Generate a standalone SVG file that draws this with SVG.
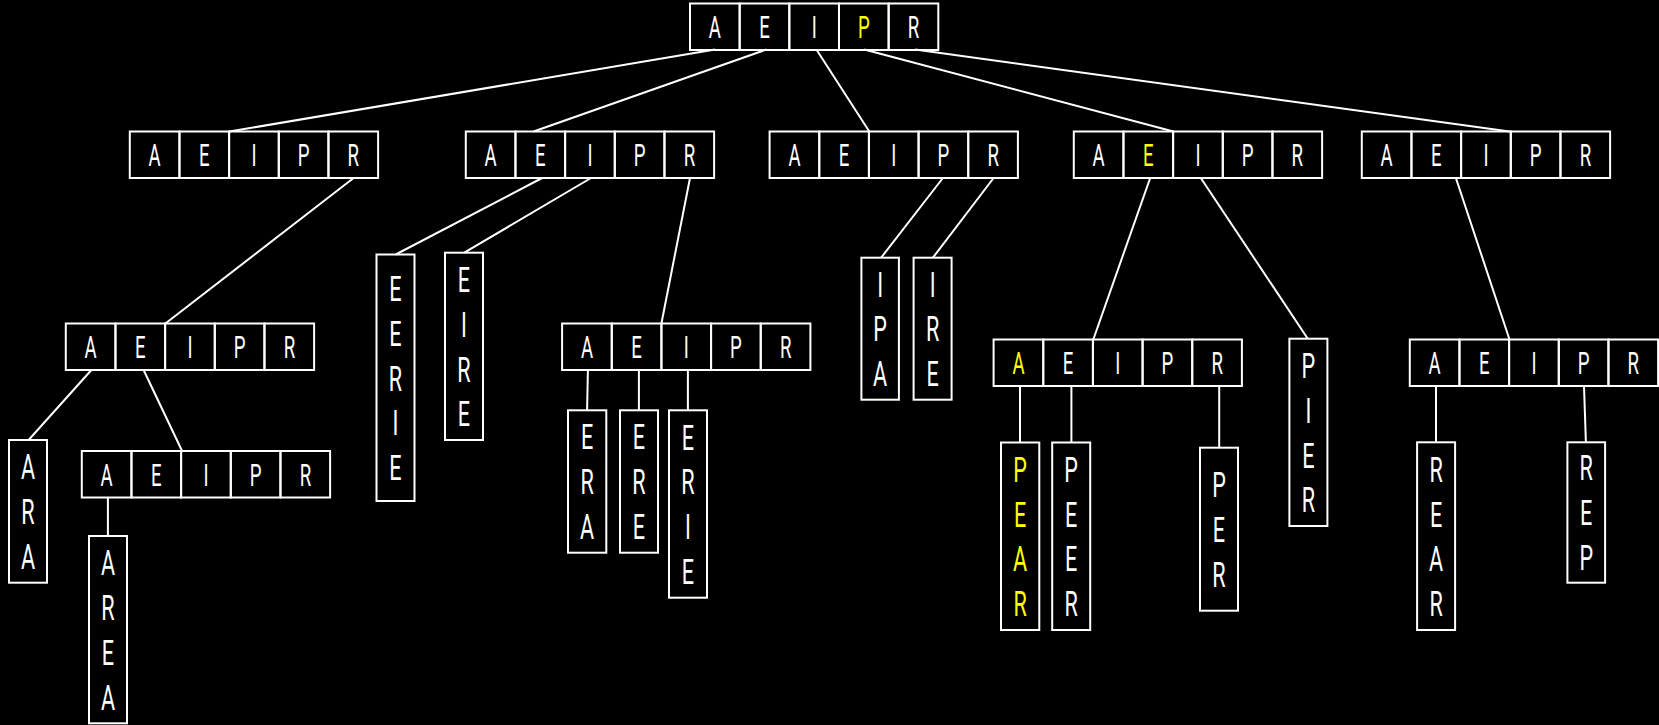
<svg xmlns="http://www.w3.org/2000/svg" width="1659" height="725" viewBox="0 0 1659 725">
<style>
.bg{fill:#000}
.c{fill:none;stroke:#fff;stroke-width:2}
.l{stroke:#fff;stroke-width:2;fill:none}
text{font-family:"Roboto","Liberation Sans",sans-serif;font-weight:400;fill:#fff;text-anchor:middle;transform-box:fill-box;transform-origin:center;transform:scaleX(0.6)}
.h{font-size:31px}
.v{font-size:36px}
.y{fill:#ffff00}
</style>
<rect class="bg" x="0" y="0" width="1659" height="725"/>
<defs>
<g id="cells">
<rect class="c" x="0" y="0" width="49.66" height="46.5"/>
<rect class="c" x="49.66" y="0" width="49.66" height="46.5"/>
<rect class="c" x="99.32" y="0" width="49.66" height="46.5"/>
<rect class="c" x="148.98" y="0" width="49.66" height="46.5"/>
<rect class="c" x="198.64" y="0" width="49.66" height="46.5"/>
</g>
</defs>
<g id="connectors">
<line class="l" x1="715" y1="49.5" x2="229.5" y2="131.5"/>
<line class="l" x1="766.4" y1="49.5" x2="533.6" y2="131.5"/>
<line class="l" x1="816.4" y1="49.5" x2="869.3" y2="131.5"/>
<line class="l" x1="864.3" y1="49.5" x2="1173.4" y2="131.5"/>
<line class="l" x1="915" y1="49.5" x2="1509.5" y2="131.5"/>
<line class="l" x1="353.6" y1="178" x2="165.4" y2="323.5"/>
<line class="l" x1="91.4" y1="370" x2="28.6" y2="440"/>
<line class="l" x1="143.6" y1="370" x2="182.1" y2="451"/>
<line class="l" x1="107.9" y1="497.5" x2="107.9" y2="536"/>
<line class="l" x1="542.1" y1="178" x2="395.7" y2="254.5"/>
<line class="l" x1="591" y1="178" x2="464.3" y2="252.7"/>
<line class="l" x1="690" y1="178" x2="661.4" y2="323.5"/>
<line class="l" x1="587.9" y1="370" x2="587.1" y2="410.3"/>
<line class="l" x1="638.9" y1="370" x2="638.9" y2="410.3"/>
<line class="l" x1="687.9" y1="370" x2="687.9" y2="410.3"/>
<line class="l" x1="942.9" y1="178" x2="881.1" y2="257.7"/>
<line class="l" x1="993.6" y1="178" x2="932.9" y2="257.7"/>
<line class="l" x1="1150.2" y1="178" x2="1093.3" y2="339.5"/>
<line class="l" x1="1200.8" y1="178" x2="1307.8" y2="338.7"/>
<line class="l" x1="1020" y1="386" x2="1020" y2="442.5"/>
<line class="l" x1="1071.4" y1="386" x2="1071.4" y2="442.5"/>
<line class="l" x1="1219.2" y1="386" x2="1219.2" y2="447.7"/>
<line class="l" x1="1455.9" y1="178" x2="1509.5" y2="339.5"/>
<line class="l" x1="1436" y1="386" x2="1436" y2="442.3"/>
<line class="l" x1="1584" y1="386" x2="1585.9" y2="442.3"/>
</g>
<g id="root">
<use href="#cells" x="690" y="3.5"/>
<text class="h" x="714.8" y="38.2">A</text><text class="h" x="764.5" y="38.2">E</text><text class="h" x="814.2" y="38.2">I</text><text class="h y" x="863.8" y="38.2">P</text><text class="h" x="913.5" y="38.2">R</text>
</g>
<g id="n1">
<use href="#cells" x="129.8" y="131.5"/>
<text class="h" x="154.6" y="166.2">A</text><text class="h" x="204.3" y="166.2">E</text><text class="h" x="254" y="166.2">I</text><text class="h" x="303.6" y="166.2">P</text><text class="h" x="353.3" y="166.2">R</text>
</g>
<g id="n2">
<use href="#cells" x="465.8" y="131.5"/>
<text class="h" x="490.6" y="166.2">A</text><text class="h" x="540.3" y="166.2">E</text><text class="h" x="590" y="166.2">I</text><text class="h" x="639.6" y="166.2">P</text><text class="h" x="689.3" y="166.2">R</text>
</g>
<g id="n3">
<use href="#cells" x="769.6" y="131.5"/>
<text class="h" x="794.4" y="166.2">A</text><text class="h" x="844.1" y="166.2">E</text><text class="h" x="893.8" y="166.2">I</text><text class="h" x="943.4" y="166.2">P</text><text class="h" x="993.1" y="166.2">R</text>
</g>
<g id="n4">
<use href="#cells" x="1073.8" y="131.5"/>
<text class="h" x="1098.6" y="166.2">A</text><text class="h y" x="1148.3" y="166.2">E</text><text class="h" x="1198" y="166.2">I</text><text class="h" x="1247.6" y="166.2">P</text><text class="h" x="1297.3" y="166.2">R</text>
</g>
<g id="n5">
<use href="#cells" x="1361.8" y="131.5"/>
<text class="h" x="1386.6" y="166.2">A</text><text class="h" x="1436.3" y="166.2">E</text><text class="h" x="1486" y="166.2">I</text><text class="h" x="1535.6" y="166.2">P</text><text class="h" x="1585.3" y="166.2">R</text>
</g>
<g id="n1a">
<use href="#cells" x="65.8" y="323.5"/>
<text class="h" x="90.6" y="358.2">A</text><text class="h" x="140.3" y="358.2">E</text><text class="h" x="190" y="358.2">I</text><text class="h" x="239.6" y="358.2">P</text><text class="h" x="289.3" y="358.2">R</text>
</g>
<g id="n1b">
<use href="#cells" x="81.8" y="451"/>
<text class="h" x="106.6" y="485.7">A</text><text class="h" x="156.3" y="485.7">E</text><text class="h" x="206" y="485.7">I</text><text class="h" x="255.6" y="485.7">P</text><text class="h" x="305.3" y="485.7">R</text>
</g>
<g id="n2b">
<use href="#cells" x="562.1" y="323.5"/>
<text class="h" x="586.9" y="358.2">A</text><text class="h" x="636.6" y="358.2">E</text><text class="h" x="686.3" y="358.2">I</text><text class="h" x="735.9" y="358.2">P</text><text class="h" x="785.6" y="358.2">R</text>
</g>
<g id="n4a">
<use href="#cells" x="993.6" y="339.5"/>
<text class="h y" x="1018.4" y="374.2">A</text><text class="h" x="1068.1" y="374.2">E</text><text class="h" x="1117.8" y="374.2">I</text><text class="h" x="1167.4" y="374.2">P</text><text class="h" x="1217.1" y="374.2">R</text>
</g>
<g id="n5a">
<use href="#cells" x="1409.8" y="339.5"/>
<text class="h" x="1434.6" y="374.2">A</text><text class="h" x="1484.3" y="374.2">E</text><text class="h" x="1534" y="374.2">I</text><text class="h" x="1583.6" y="374.2">P</text><text class="h" x="1633.3" y="374.2">R</text>
</g>
<g id="w-ara">
<rect class="c" x="9" y="440" width="38" height="142.7"/>
<text class="v" x="28" y="479.4">A</text><text class="v" x="28" y="524.2">R</text><text class="v" x="28" y="569">A</text>
</g>
<g id="w-area">
<rect class="c" x="89" y="536" width="38" height="187.3"/>
<text class="v" x="108" y="575.3">A</text><text class="v" x="108" y="620.1">R</text><text class="v" x="108" y="664.9">E</text><text class="v" x="108" y="709.7">A</text>
</g>
<g id="w-eerie">
<rect class="c" x="376.5" y="254.5" width="38" height="246.5"/>
<text class="v" x="395.5" y="301">E</text><text class="v" x="395.5" y="345.8">E</text><text class="v" x="395.5" y="390.6">R</text><text class="v" x="395.5" y="435.4">I</text><text class="v" x="395.5" y="480.2">E</text>
</g>
<g id="w-eire">
<rect class="c" x="445" y="252.7" width="38" height="187.3"/>
<text class="v" x="464" y="292">E</text><text class="v" x="464" y="336.8">I</text><text class="v" x="464" y="381.6">R</text><text class="v" x="464" y="426.4">E</text>
</g>
<g id="w-era">
<rect class="c" x="568" y="410.3" width="38.3" height="142.4"/>
<text class="v" x="587.15" y="449.5">E</text><text class="v" x="587.15" y="494.3">R</text><text class="v" x="587.15" y="539.1">A</text>
</g>
<g id="w-ere">
<rect class="c" x="620" y="410.3" width="38" height="142.4"/>
<text class="v" x="639" y="449.5">E</text><text class="v" x="639" y="494.3">R</text><text class="v" x="639" y="539.1">E</text>
</g>
<g id="w-erie">
<rect class="c" x="669" y="410.3" width="38" height="187.4"/>
<text class="v" x="688" y="449.6">E</text><text class="v" x="688" y="494.4">R</text><text class="v" x="688" y="539.2">I</text><text class="v" x="688" y="584">E</text>
</g>
<g id="w-ipa">
<rect class="c" x="861.4" y="257.7" width="37.5" height="142"/>
<text class="v" x="880.15" y="296.7">I</text><text class="v" x="880.15" y="341.5">P</text><text class="v" x="880.15" y="386.3">A</text>
</g>
<g id="w-ire">
<rect class="c" x="913.6" y="257.7" width="38" height="142"/>
<text class="v" x="932.6" y="296.7">I</text><text class="v" x="932.6" y="341.5">R</text><text class="v" x="932.6" y="386.3">E</text>
</g>
<g id="w-pear">
<rect class="c" x="1001" y="442.5" width="38.3" height="187.5"/>
<text class="v y" x="1020.15" y="481.9">P</text><text class="v y" x="1020.15" y="526.7">E</text><text class="v y" x="1020.15" y="571.5">A</text><text class="v y" x="1020.15" y="616.3">R</text>
</g>
<g id="w-peer">
<rect class="c" x="1052.2" y="442.5" width="38" height="187.5"/>
<text class="v" x="1071.2" y="481.9">P</text><text class="v" x="1071.2" y="526.7">E</text><text class="v" x="1071.2" y="571.5">E</text><text class="v" x="1071.2" y="616.3">R</text>
</g>
<g id="w-per">
<rect class="c" x="1200" y="447.7" width="38" height="163"/>
<text class="v" x="1219" y="497.2">P</text><text class="v" x="1219" y="542">E</text><text class="v" x="1219" y="586.8">R</text>
</g>
<g id="w-pier">
<rect class="c" x="1289.4" y="338.7" width="38" height="187.3"/>
<text class="v" x="1308.4" y="378">P</text><text class="v" x="1308.4" y="422.8">I</text><text class="v" x="1308.4" y="467.6">E</text><text class="v" x="1308.4" y="512.4">R</text>
</g>
<g id="w-rear">
<rect class="c" x="1417.1" y="442.3" width="38" height="187.7"/>
<text class="v" x="1436.1" y="481.8">R</text><text class="v" x="1436.1" y="526.6">E</text><text class="v" x="1436.1" y="571.4">A</text><text class="v" x="1436.1" y="616.2">R</text>
</g>
<g id="w-rep">
<rect class="c" x="1567.4" y="442.3" width="37.7" height="140.4"/>
<text class="v" x="1586.25" y="480.5">R</text><text class="v" x="1586.25" y="525.3">E</text><text class="v" x="1586.25" y="570.1">P</text>
</g>
</svg>
